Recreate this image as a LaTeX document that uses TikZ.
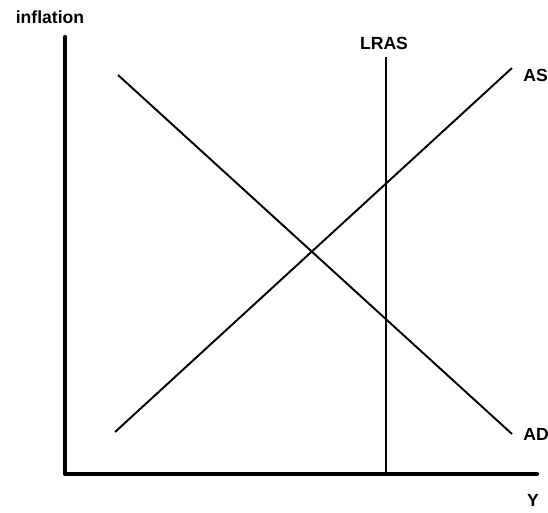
\documentclass[tikz,border=0pt]{standalone}
\usepackage{fontspec}
\setmainfont{Liberation Sans}
\begin{document}
\begin{tikzpicture}[x=0.02cm, y=-0.02cm,
        axis/.style={line width=2.4pt, line cap=round, line join=round},
        curve/.style={line width=1.1pt},
        lbl/.style={font=\bfseries\fontsize{10}{12}\selectfont, inner sep=0pt}
    ]
    \useasboundingbox (0,0) rectangle (548,512);
    \coordinate (origin) at (65,474);
    \coordinate (ytop) at (65,37);
    \coordinate (xend) at (537,474);
    \coordinate (lrastop) at (386,57);
    \coordinate (lrasbot) at (386,474);
    \coordinate (asstart) at (115,432);
    \coordinate (asend) at (512,68);
    \coordinate (adstart) at (118,75);
    \coordinate (adend) at (512,434);

    \node[lbl] (infl) at (50,17) {inflation};
    \node[lbl] (lras) at (384,43) {LRAS};
    \node[lbl, anchor=west] (as) at (523,75) {AS};
    \node[lbl, anchor=west] (ad) at (523,434) {AD};
    \node[lbl] (yy) at (533,500) {Y};

    \draw[axis] (ytop) -- (origin) -- (xend);
    \draw[curve] (lrastop) -- (lrasbot);
    \draw[curve] (asstart) -- (asend);
    \draw[curve] (adstart) -- (adend);
\end{tikzpicture}
\end{document}
